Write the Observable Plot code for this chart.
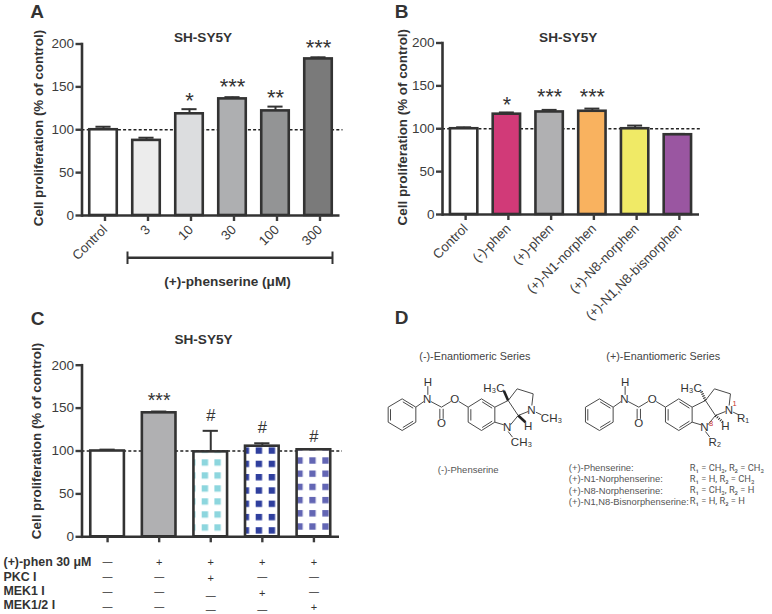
<!DOCTYPE html>
<html><head><meta charset="utf-8">
<script src="https://cdn.jsdelivr.net/npm/d3@7"></script>
<script src="https://cdn.jsdelivr.net/npm/@observablehq/plot@0.6"></script>
<style>
html,body{margin:0;padding:0;background:#fff}
#root{position:relative;width:772px;height:614px;overflow:hidden;background:#fff}
#root svg{position:absolute;left:0;top:0;background:transparent;max-width:none}
</style></head><body><div id="root"></div>
<script>
// Panel A
const aCats = ["Control","3","10","30","100","300"];
const aVals = [100,87.6,118.6,136,122,182.6];
const aTops = [103.5,90.7,124,138,127,184.5];
const aFill = ["#ffffff","#ececec","#dcdddf","#aeafb1","#939495","#7a7a7a"];
const aStars = ["","","*","***","**","***"];
const aStarLevel = [0,0,137,153,140,199];
// Panel B
const bCats = ["Control","(-)-phen","(+)-phen","(+)-N1-norphen","(+)-N8-norphen","(+)-N1,N8-bisnorphen"];
const bVals = [100,117,119.6,120.4,100,93];
const bTops = [101.7,119,122,123.5,103.7,94];
const bFill = ["#ffffff","#d13a78","#b0b0b2","#f9b25f","#f0ea66","#9a56a1"];
const bStars = ["","*","***","***","",""];
const bStarLevel = [0,131,140,140,0,0];
// Panel C
const cCats = ["Control","phen","PKC","MEK1","MEK1/2"];
const cVals = [100,144.5,99,105.6,101.4];
const cTops = [101.6,146,123.5,109,102];
const cFill = ["#ffffff","#b0b0b2","url(#pCyan)","url(#pBlue)","url(#pPurple)"];
const cStars = ["","***","","",""];
const cStarLevel = [0,162,0,0,0];
const cHash = ["","","#","#","#"];
const cHashLevel = [0,0,141,127,117];
const rowNames = ["(+)-phen 30 μM","PKC I","MEK1 I","MEK1/2 I"];
const phenSigns = ["−","+","+","+","+"];
const pkcSigns  = ["−","−","+","−","−"];
const mek1Signs = ["−","−","−","+","−"];
const mek12Signs= ["−","−","−","−","+"];
const rowShift = [[0,0,0,0],[0,0,0,0],[0,.07,.27,.22],[0,0,.11,.22],[0,0,0,.09]];
const listNames = ["(+)-Phenserine:","(+)-N1-Norphenserine:","(+)-N8-Norphenserine:","(+)-N1,N8-Bisnorphenserine:"];
const listSubs = ["R₁ = CH₃, R₂ = CH₃","R₁ = H, R₂ = CH₃","R₁ = CH₃, R₂ = H","R₁ = H, R₂ = H"];
// Structure drawing: bonds as [x1,y1,x2,y2]
const bonds = [
 [5,125,47,100],[47,100,88,125],[88,125,88,170],[88,170,47,195],[47,195,5,170],[5,170,5,125],
 [12,131,12,165],[49,109,80,128],[49,186,80,167],
 [88,125,112,108],[133,108,165,125],[165,125,193,108],[160,130,160,160],[170,130,170,160],
 [217,108,245,125],[124,62,124,88],
 [245,125,285,100],[285,100,325,125],[325,125,325,170],[325,170,285,195],[285,195,245,170],[245,170,245,125],
 [253,131,253,165],[287,109,317,128],[287,186,317,167],
 [325,125,365,105],[325,170,352,178],[365,105,395,150],[395,150,372,178],[395,150,425,138],
 [365,105,392,70],[392,70,440,85],[440,85,436,120],[448,140,465,148],[365,198,378,215]
];
const wedges = [[365,105,352,76],[395,150,417,170]];
const atomsL = [["H",124,50],["N",122,100],["O",205,100],["O",165,172],["H₃C",322,68],["N",435,133],["CH₃",495,158],["H",425,182],["N",362,185],["CH₃",405,230]];
const atomsR = [["H",124,50],["N",122,100],["O",205,100],["O",165,172],["H₃C",322,68],["N",435,133],["R₁",478,158],["H",425,182],["N",362,185],["R₂",393,230]];

const font = "Liberation Sans, Arial, sans-serif";
const root = document.getElementById("root");
const dark = "#333";
const tbl = (cats, vals, tops, fill, stars, level) => cats.map((c,i)=>({c,v:vals[i],t:tops[i],fill:fill[i],s:stars[i],l:level[i]}));

function defs(){
  const d = d3.create("svg:defs");
  const pat = (id,x,y,w,h,col)=>{
    const p = d.append("pattern").attr("id",id).attr("patternUnits","userSpaceOnUse")
      .attr("x",x).attr("y",y).attr("width",w).attr("height",h);
    p.append("rect").attr("width",w).attr("height",h).attr("fill","#fff");
    p.append("rect").attr("width",6.4).attr("height",6.4).attr("fill",col);
  };
  pat("pCyan",201.7,459.3,12.7,13,"#8dd6de");
  pat("pBlue",255.7,460.7,13,13.3,"#2f3f9e");
  pat("pPurple",309.3,457.3,13,13.2,"#6366b4");
  return d.node();
}

function panel({data,left,right,top,bottom,padding,paddingOuter,labels,starSize,extra=[]}){
  return Plot.plot({
    width:772,height:614,marginLeft:left,marginRight:right,marginTop:top,marginBottom:bottom,
    style:{fontFamily:font,background:"transparent"},
    x:{type:"band",domain:data.map(d=>d.c),padding,paddingOuter,round:false,label:null},
    y:{domain:[0,200],label:null},
    color:{type:"identity"},
    marks:[
      defs,
      Plot.ruleY([100],{stroke:"#222",strokeWidth:1.5,strokeDasharray:"3,2.2",insetRight:-3}),
      Plot.ruleX(data,{x:"c",y1:"v",y2:"t",stroke:dark,strokeWidth:2}),
      Plot.tickY(data,{x:"c",y:"t",stroke:dark,strokeWidth:2,insetLeft:extra.cap,insetRight:extra.cap}),
      Plot.barY(data,{x:"c",y:"v",fill:"fill",stroke:dark,strokeWidth:2.6}),
      Plot.frame({anchor:"left",stroke:dark,strokeWidth:2.6}),
      Plot.ruleY([0],{stroke:dark,strokeWidth:2.6}),
      Plot.axisY({ticks:[0,50,100,150,200],tickSize:6,tickPadding:2,strokeWidth:2.4,color:"#3c3c3c",fontSize:13.5,label:null}),
      labels
        ? Plot.axisX({tickSize:6,tickPadding:6,strokeWidth:2.4,color:"#3c3c3c",fontSize:13.3,tickRotate:-45,textAnchor:"end",dx:1.5,label:null})
        : Plot.axisX({tickSize:6,strokeWidth:2.4,color:"#3c3c3c",tickFormat:()=>"",label:null}),
      Plot.text(data.filter(d=>d.s),{x:"c",y:"l",text:"s",fontSize:starSize,dy:3,fill:dark}),
      ...(extra.marks||[])
    ]
  });
}

const aData = tbl(aCats,aVals,aTops,aFill,aStars,aStarLevel);
const bData = tbl(bCats,bVals,bTops,bFill,bStars,bStarLevel);
const cData = tbl(cCats,cVals,cTops,cFill,cStars,cStarLevel).map((d,i)=>({...d,h:cHash[i],hl:cHashLevel[i]}));

const capA = Object.assign([], {cap:6.2});
const capC = Object.assign([], {cap:9.2, marks:[
  Plot.text(cData.filter(d=>d.h),{x:"c",y:"hl",text:"h",fontSize:16.5,fill:dark})
]});

root.append(panel({data:aData,left:81.5,right:432.5,top:43.5,bottom:399,padding:.36,paddingOuter:.18,labels:true,starSize:22,extra:capA}));
root.append(panel({data:bData,left:442,right:73,top:42.5,bottom:400,padding:.36,paddingOuter:.186,labels:true,starSize:21.5,extra:capA}));
root.append(panel({data:cData,left:81.5,right:433,top:364.7,bottom:77.7,padding:.348,paddingOuter:.17,labels:false,starSize:19.5,extra:capC}));

// Sign table under panel C, sharing panel C's band positions
const signCells = [phenSigns,pkcSigns,mek1Signs,mek12Signs].flatMap((row,r)=>row.map((s,i)=>({c:cCats[i],s,r:r+1+rowShift[i][r]})));
root.append(Plot.plot({
  width:772,height:614,marginLeft:81.5,marginRight:433,marginTop:561.7,marginBottom:8,
  style:{fontFamily:font,background:"transparent"},
  x:{type:"band",domain:cCats,padding:.348,paddingOuter:.17,round:false,axis:null},
  y:{domain:[1,4],reverse:true,axis:null},
  marks:[
    Plot.text(signCells.filter(d=>d.s==="+"),{x:"c",y:"r",text:"s",fontSize:11,fill:dark}),
    Plot.text(signCells.filter(d=>d.s!=="+"),{x:"c",y:"r",text:()=>"—",fontSize:10,fill:dark})
  ]
}));

// Annotations and structures in page units
const label = (t,x,y,o={}) => Plot.text([t],{x:()=>x,y:()=>y,text:d=>d,fontFamily:font,fontSize:12,fill:"#444",...o});
const bold = {fontWeight:"bold",fill:dark};
const px = (z,off=0)=>386+z/3+off, py = z=>365+z/3;
const mol = (off,dash)=>[
  Plot.link(bonds,{x1:b=>px(b[0],off),y1:b=>py(b[1]),x2:b=>px(b[2],off),y2:b=>py(b[3]),stroke:"#4a4a4a",strokeWidth:1}),
  Plot.link(wedges,{x1:b=>px(b[0],off),y1:b=>py(b[1]),x2:b=>px(b[2],off),y2:b=>py(b[3]),stroke:"#222",strokeWidth:2.6,strokeDasharray:dash})
];
root.append(Plot.plot({
  width:772,height:614,margin:0,
  style:{fontFamily:font,background:"transparent"},
  x:{type:"linear",domain:[0,772],range:[0,772],axis:null},
  y:{type:"linear",domain:[0,614],range:[0,614],axis:null},
  marks:[
    label("A",36.5,11,{...bold,fontSize:19}),
    label("B",401,11,{...bold,fontSize:19}),
    label("C",37,318,{...bold,fontSize:19}),
    label("D",401,317,{...bold,fontSize:19}),
    label("SH-SY5Y",202.5,37,{...bold,fontSize:13.6}),
    label("SH-SY5Y",567.7,37,{...bold,fontSize:13.6}),
    label("SH-SY5Y",203,339,{...bold,fontSize:13.6}),
    label("Cell proliferation (% of control)",38,127.5,{...bold,fontSize:13.4,rotate:-90}),
    label("Cell proliferation (% of control)",402.7,126.7,{...bold,fontSize:13.4,rotate:-90}),
    label("Cell proliferation (% of control)",36,440.5,{...bold,fontSize:13.4,rotate:-90}),
    Plot.ruleY([257.3],{x1:127,x2:332,stroke:dark,strokeWidth:2.4}),
    Plot.ruleX([127,332],{y1:251.5,y2:264,stroke:dark,strokeWidth:2}),
    label("(+)-phenserine (μM)",227,281,{...bold,fontSize:13.6}),
    ...rowNames.map((t,i)=>label(t,3,[561.7,576.3,590.7,605][i],{...bold,fontSize:12.4,textAnchor:"start"})),
    label("(-)-Enantiomeric Series",474.3,356,{fontSize:10.8}),
    label("(+)-Enantiomeric Series",662.7,356,{fontSize:10.8}),
    ...mol(0,null),
    ...mol(197.3,"1,1.2"),
    Plot.text(atomsL,{x:d=>px(d[1]),y:d=>py(d[2]),text:d=>d[0],fontSize:11.5,fill:"#333"}),
    Plot.text(atomsR,{x:d=>px(d[1],197.3),y:d=>py(d[2]),text:d=>d[0],fontSize:11.5,fill:"#333"}),
    label("1",734,403,{fontSize:7.5,fill:"#c8342f"}),
    label("8",710.7,423.3,{fontSize:7.5,fill:"#c8342f"}),
    label("(-)-Phenserine",467.7,469,{fontSize:9.5,fill:"#555"}),
    ...listNames.map((t,i)=>label(t,568.3,[467.7,478.7,490,501][i],{fontSize:9.4,fill:"#555",textAnchor:"start"})),
    ...listSubs.map((t,i)=>label(t,689.3,[467.7,478.7,490,501][i],{fontFamily:"Roboto",fontSize:9.3,fill:"#555",textAnchor:"start"}))
  ]
}));
</script></body></html>
